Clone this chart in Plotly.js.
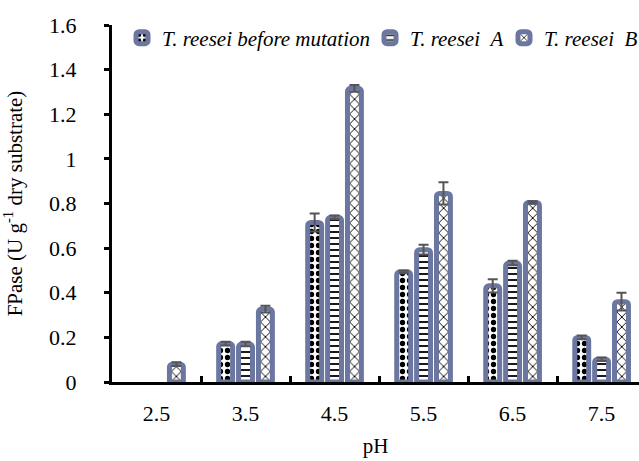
<!DOCTYPE html>
<html>
<head>
<meta charset="utf-8">
<script src="https://cdn.plot.ly/plotly-3.0.1.min.js"></script>
<style>html,body{margin:0;padding:0;background:#fff;}#chart{width:639px;height:461px;}</style>
</head>
<body>
<div id="chart"></div>
<script>
const categories = ["2.5", "3.5", "4.5", "5.5", "6.5", "7.5"];
const seriesNames = ["T. reesei before mutation", "T. reesei\u00A0\u00A0A", "T. reesei\u00A0\u00A0B"];
const beforeMutation = [null, 0.172, 0.715, 0.494, 0.431, 0.200];
const beforeMutationErr = [0, 0.008, 0.040, 0.005, 0.030, 0.008];
const mutantA = [null, 0.170, 0.738, 0.593, 0.533, 0.102];
const mutantAErr = [0, 0.010, 0.008, 0.022, 0.010, 0.008];
const mutantB = [0.080, 0.327, 1.316, 0.845, 0.805, 0.360];
const mutantBErr = [0.008, 0.015, 0.015, 0.050, 0.005, 0.040];

const values = [beforeMutation, mutantA, mutantB];
const errors = [beforeMutationErr, mutantAErr, mutantBErr];
const shapes = [".", "-", "x"];
const patSizes = [7, 6, 7];
const patSolid = [0.45, 0.3, 0.25];
const legendIds = ["legend", "legend2", "legend3"];
const legendX = [0.019, 0.4896, 0.7438];

const serif = "'Liberation Serif', 'Times New Roman', serif";
const barColor = "#6B76A1";
const traces = values.map((v, i) => ({
  type: "bar",
  name: seriesNames[i],
  legend: legendIds[i],
  x: categories,
  y: v,
  marker: {
    color: "#ffffff",
    line: {color: barColor, width: 5},
    cornerradius: 3,
    pattern: {shape: shapes[i], fgcolor: "#000000", bgcolor: "#ffffff", size: patSizes[i], solidity: patSolid[i]}
  },
  error_y: {type: "data", array: errors[i], visible: true, color: "#555555", thickness: 2, width: 5}
}));

const layout = {
  width: 639, height: 461,
  margin: {l: 112, r: 0, t: 25, b: 79, autoexpand: false},
  paper_bgcolor: "#ffffff", plot_bgcolor: "#ffffff",
  barmode: "group", bargap: 0.33, bargroupgap: 0.3,
  font: {family: serif, color: "#000000", size: 21},
  showlegend: true,
  xaxis: {
    type: "category", range: [-0.5, 5.42],
    showline: true, linecolor: "#000000", linewidth: 3,
    ticks: "inside", tickson: "boundaries", ticklen: 6, tickwidth: 3, tickcolor: "#000000",
    showgrid: false, zeroline: false,
    tickfont: {family: serif, size: 22}, ticklabelstandoff: 10,
    title: {text: "pH", font: {family: serif, size: 21}, standoff: 13}
  },
  yaxis: {
    range: [0, 1.6], dtick: 0.2,
    showline: true, linecolor: "#000000", linewidth: 3,
    ticks: "outside", ticklen: 5, tickwidth: 3, tickcolor: "#000000",
    showgrid: false, zeroline: false,
    tickfont: {family: serif, size: 22}, ticklabelstandoff: 23,
    title: {text: "FPase (U g<sup>-1</sup> dry substrate)", font: {family: serif, size: 21}, standoff: 21}
  }
};
legendIds.forEach((id, i) => {
  layout[id] = {
    orientation: "h", x: legendX[i], xanchor: "left", y: 0.9636, yanchor: "middle",
    font: {family: serif, size: 21, style: "italic"},
    bgcolor: "rgba(0,0,0,0)", itemwidth: 30
  };
});

Plotly.newPlot("chart", traces, layout, {displayModeBar: false, staticPlot: true});
</script>
</body>
</html>
